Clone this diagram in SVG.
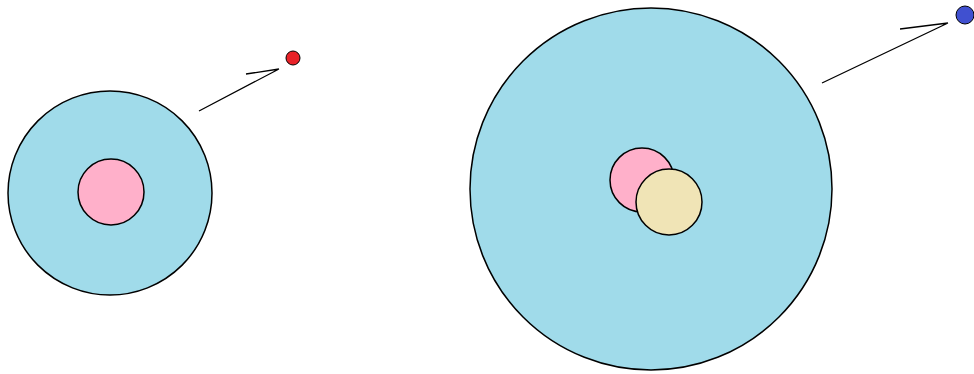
<svg xmlns="http://www.w3.org/2000/svg" width="974" height="374" viewBox="0 0 974 374">
<style>
.cell{fill:#A0DBEA;stroke:#000;stroke-width:1.5}
.nuc{fill:#FFB0CA;stroke:#000;stroke-width:1.5}
.yel{fill:#F0E4B6;stroke:#000;stroke-width:1.5}
.conn{fill:none;stroke:#000;stroke-width:1.3}
</style>
<rect width="974" height="374" fill="#fff"/>
<g id="cell-left">
<circle class="cell" cx="110" cy="193" r="102"/>
<circle class="nuc" cx="111" cy="192" r="33"/>
</g>
<g id="dot-red"><circle cx="293" cy="58" r="7" fill="#E82228" stroke="#000" stroke-width="1"/></g>
<g id="cell-right">
<circle class="cell" cx="651" cy="189" r="181"/>
<circle class="nuc" cx="642" cy="180" r="32"/>
<circle class="yel" cx="669" cy="202" r="33"/>
</g>
<g id="dot-blue"><circle cx="965" cy="15" r="9" fill="#4050D0" stroke="#000" stroke-width="1"/></g>
<g id="connectors">
<path class="conn" d="M199,111 L279,69 M279,69 L246,74"/>
<path class="conn" d="M822,83 L948,23 M948,23 L900,29"/>
</g>
</svg>
